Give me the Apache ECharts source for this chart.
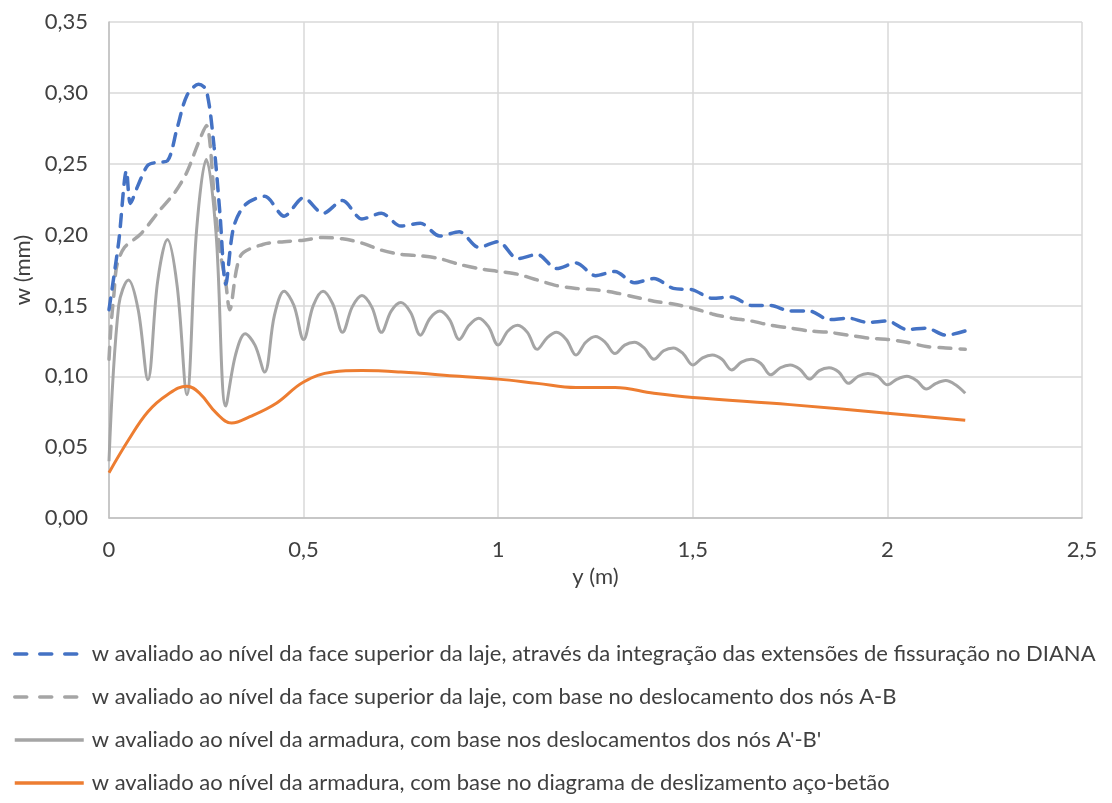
<!DOCTYPE html>
<html>
<head>
<meta charset="utf-8">
<script src="https://cdn.jsdelivr.net/npm/echarts@6/dist/echarts.min.js"></script>
<style>
  html, body { margin: 0; padding: 0; background: #fff; }
  #chart { width: 1112px; height: 803px; }
</style>
</head>
<body>
<div id="chart"></div>
<script>
const seriesNames = [
  'w avaliado ao nível da face superior da laje, através da integração das extensões de fissuração no DIANA',
  'w avaliado ao nível da face superior da laje, com base no deslocamento dos nós A-B',
  "w avaliado ao nível da armadura, com base nos deslocamentos dos nós A'-B'",
  'w avaliado ao nível da armadura, com base no diagrama de deslizamento aço-betão'
];

const xTicks = [0, 0.5, 1, 1.5, 2, 2.5];
const yTicks = [0, 0.05, 0.10, 0.15, 0.20, 0.25, 0.30, 0.35];

const blueX = [0, 0.025, 0.045, 0.055, 0.075, 0.1, 0.125, 0.15, 0.175, 0.2, 0.23, 0.25, 0.27, 0.285, 0.3, 0.32, 0.35, 0.4, 0.45, 0.5, 0.55, 0.6, 0.65, 0.7, 0.75, 0.8, 0.85, 0.9, 0.95, 1.0, 1.05, 1.1, 1.15, 1.2, 1.25, 1.3, 1.35, 1.4, 1.45, 1.5, 1.55, 1.6, 1.65, 1.7, 1.75, 1.8, 1.85, 1.9, 1.95, 2.0, 2.05, 2.1, 2.15, 2.2];
const blueW = [0.147, 0.195, 0.245, 0.222, 0.235, 0.249, 0.251, 0.252, 0.275, 0.298, 0.306, 0.302, 0.262, 0.215, 0.165, 0.205, 0.221, 0.227, 0.213, 0.226, 0.215, 0.224, 0.211, 0.215, 0.206, 0.208, 0.199, 0.202, 0.191, 0.195, 0.183, 0.186, 0.176, 0.180, 0.171, 0.174, 0.166, 0.169, 0.162, 0.161, 0.155, 0.156, 0.150, 0.150, 0.146, 0.146, 0.140, 0.141, 0.138, 0.139, 0.133, 0.134, 0.129, 0.132];

const greyDashX = [0, 0.005, 0.013, 0.02, 0.04, 0.08, 0.13, 0.17, 0.2, 0.23, 0.25, 0.273, 0.286, 0.3, 0.31, 0.338, 0.395, 0.45, 0.5, 0.55, 0.6, 0.65, 0.7, 0.75, 0.8, 0.85, 0.9, 0.95, 1.0, 1.05, 1.1, 1.15, 1.2, 1.25, 1.3, 1.35, 1.4, 1.45, 1.5, 1.55, 1.6, 1.65, 1.7, 1.75, 1.8, 1.85, 1.9, 1.95, 2.0, 2.05, 2.1, 2.15, 2.2];
const greyDashW = [0.112, 0.135, 0.159, 0.178, 0.191, 0.200, 0.217, 0.230, 0.244, 0.265, 0.277, 0.218, 0.187, 0.166, 0.147, 0.185, 0.193, 0.195, 0.196, 0.198, 0.197, 0.194, 0.189, 0.186, 0.185, 0.183, 0.179, 0.176, 0.174, 0.172, 0.168, 0.164, 0.162, 0.161, 0.159, 0.156, 0.153, 0.151, 0.148, 0.144, 0.141, 0.139, 0.136, 0.134, 0.132, 0.131, 0.129, 0.127, 0.126, 0.124, 0.121, 0.120, 0.119];

const greySolidX = [0, 0.025, 0.05, 0.075, 0.1, 0.125, 0.15, 0.175, 0.2, 0.225, 0.25, 0.275, 0.3, 0.325, 0.35, 0.375, 0.4, 0.425, 0.45, 0.475, 0.5, 0.525, 0.55, 0.575, 0.6, 0.625, 0.65, 0.675, 0.7, 0.725, 0.75, 0.775, 0.8, 0.825, 0.85, 0.875, 0.9, 0.925, 0.95, 0.975, 1.0, 1.025, 1.05, 1.075, 1.1, 1.125, 1.15, 1.175, 1.2, 1.225, 1.25, 1.275, 1.3, 1.325, 1.35, 1.375, 1.4, 1.425, 1.45, 1.475, 1.5, 1.525, 1.55, 1.575, 1.6, 1.625, 1.65, 1.675, 1.7, 1.725, 1.75, 1.775, 1.8, 1.825, 1.85, 1.875, 1.9, 1.925, 1.95, 1.975, 2.0, 2.025, 2.05, 2.075, 2.1, 2.125, 2.15, 2.175, 2.2];
const greySolidW = [0.040, 0.150, 0.168, 0.147, 0.0975, 0.167, 0.1965, 0.164, 0.087, 0.203, 0.253, 0.201, 0.079, 0.115, 0.130, 0.122, 0.103, 0.143, 0.160, 0.150, 0.126, 0.150, 0.160, 0.151, 0.131, 0.149, 0.157, 0.149, 0.131, 0.146, 0.152, 0.145, 0.129, 0.141, 0.146, 0.140, 0.126, 0.136, 0.141, 0.135, 0.122, 0.132, 0.136, 0.131, 0.119, 0.127, 0.131, 0.126, 0.115, 0.124, 0.128, 0.124, 0.116, 0.122, 0.124, 0.120, 0.112, 0.118, 0.120, 0.116, 0.108, 0.113, 0.115, 0.112, 0.1045, 0.110, 0.112, 0.109, 0.101, 0.106, 0.108, 0.105, 0.098, 0.104, 0.106, 0.103, 0.095, 0.100, 0.102, 0.100, 0.094, 0.098, 0.100, 0.097, 0.091, 0.095, 0.097, 0.094, 0.088];

const orangeX = [0, 0.05, 0.1, 0.15, 0.2, 0.233, 0.276, 0.315, 0.362, 0.43, 0.5, 0.575, 0.65, 0.75, 0.9, 1.0, 1.1, 1.2, 1.3, 1.4, 1.5, 1.75, 2.0, 2.2];
const orangeW = [0.032, 0.055, 0.075, 0.087, 0.093, 0.088, 0.074, 0.067, 0.0715, 0.081, 0.096, 0.103, 0.104, 0.103, 0.100, 0.098, 0.095, 0.092, 0.092, 0.088, 0.085, 0.080, 0.074, 0.069];

const colors = ['#4472C4', '#A5A5A5', '#A5A5A5', '#ED7D31'];
const FONT = 'Lato';
const TXT = '#404040';

function pairs(xs, ys) { return xs.map((x, i) => [x, ys[i]]); }
const fmt = v => String(v).replace('.', ',');

const chart = echarts.init(document.getElementById('chart'), null, { renderer: 'canvas' });

const legendCenters = [655, 698, 741, 784];
const legendLine = [
  { width: 3.5, type: [12, 13] },
  { width: 3.5, type: [12, 13] },
  { width: 3.5, type: 'solid' },
  { width: 3.5, type: 'solid' }
];
const legends = seriesNames.map((n, i) => ({
  data: [n],
  left: 13,
  top: legendCenters[i] - 12,
  padding: 0,
  itemWidth: 69,
  itemHeight: 14,
  itemGap: 8,
  selectedMode: false,
  itemStyle: { opacity: 0 },
  lineStyle: legendLine[i],
  textStyle: { fontFamily: FONT, fontSize: 22, color: TXT, padding: [0, 0, 0, 3] }
}));

chart.setOption({
  animation: false,
  backgroundColor: '#ffffff',
  color: colors,
  grid: { left: 109, right: 30, top: 22, bottom: 285, containLabel: false },
  legend: legends,
  xAxis: {
    type: 'value',
    min: 0, max: 2.5, interval: 0.5,
    name: 'y (m)',
    nameLocation: 'middle',
    nameGap: 48,
    nameTextStyle: { fontFamily: FONT, fontSize: 22, color: TXT },
    axisLine: { show: true, lineStyle: { color: '#BFBFBF', width: 1.5 } },
    axisTick: { show: false },
    axisLabel: { fontFamily: FONT, fontSize: 22, color: TXT, margin: 21, formatter: fmt },
    splitLine: { show: true, lineStyle: { color: '#D9D9D9', width: 1.5 } }
  },
  yAxis: {
    type: 'value',
    min: 0, max: 0.35, interval: 0.05,
    name: 'w (mm)',
    nameLocation: 'middle',
    nameGap: 72,
    nameRotate: 90,
    nameTextStyle: { fontFamily: FONT, fontSize: 22, color: TXT },
    axisLine: { show: true, lineStyle: { color: '#BFBFBF', width: 1.5 } },
    axisTick: { show: false },
    axisLabel: { fontFamily: FONT, fontSize: 22, color: TXT, margin: 21,
      formatter: v => v.toFixed(2).replace('.', ',') },
    splitLine: { show: true, lineStyle: { color: '#D9D9D9', width: 1.5 } }
  },
  series: [
    { name: seriesNames[0], type: 'line', data: pairs(blueX, blueW), symbol: 'none', smooth: 0.3,
      lineStyle: { color: colors[0], width: 3.5, type: [12, 9], cap: 'round' }, z: 4 },
    { name: seriesNames[1], type: 'line', data: pairs(greyDashX, greyDashW), symbol: 'none', smooth: 0.3,
      lineStyle: { color: colors[1], width: 3.5, type: [12, 9], cap: 'round' }, z: 3 },
    { name: seriesNames[2], type: 'line', data: pairs(greySolidX, greySolidW), symbol: 'none', smooth: 0.35,
      lineStyle: { color: colors[2], width: 3 }, z: 2 },
    { name: seriesNames[3], type: 'line', data: pairs(orangeX, orangeW), symbol: 'none', smooth: 0.4,
      lineStyle: { color: colors[3], width: 3 }, z: 5 }
  ]
});
</script>
</body>
</html>
